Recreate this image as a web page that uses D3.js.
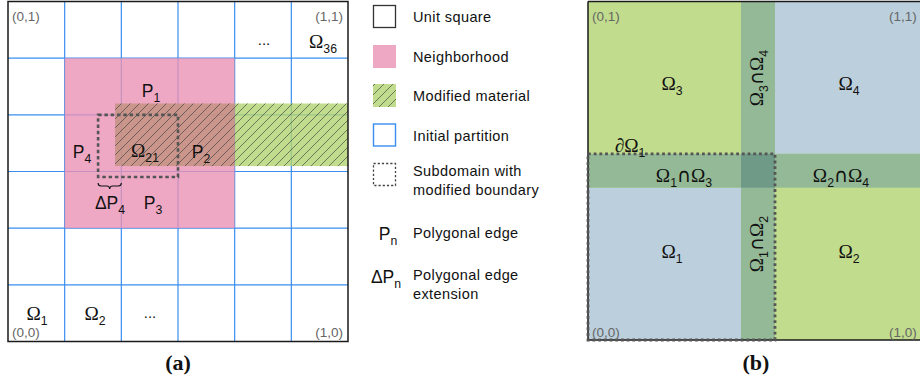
<!DOCTYPE html>
<html><head><meta charset="utf-8">
<script src="https://cdn.jsdelivr.net/npm/d3@7"></script>
<style>html,body{margin:0;padding:0;background:#fff;}svg{display:block;}</style>
</head><body>
<script>
// ---------- data ----------
const partitionLines = [0, 1/6, 2/6, 3/6, 4/6, 5/6, 1];
const neighborhood = {x0: 1/6, x1: 4/6, y0: 2/6, y1: 5/6};
const modifiedMaterial = {x0: 0.315, x1: 1, y0: 0.516, y1: 0.70};
const subdomainA = {x0: 0.265, x1: 0.5, y0: 0.484, y1: 4/6};
const extensionA = {x0: 0.265, x1: 1/3};
const splitB = 0.5;
const overlapB = 0.05;
const legendLabels = ["Unit square", "Neighborhood", "Modified material", "Initial partition", ["Subdomain with", "modified boundary"]];
const captions = ["(a)", "(b)"];

// ---------- setup ----------
const W = 920, H = 383;
const svg = d3.select("body").append("svg").attr("width", W).attr("height", H);
const defs = svg.append("defs");
const FONT = "Liberation Sans, Arial, Helvetica, sans-serif";
const SERIF = "Liberation Serif, DejaVu Serif, serif";
const C = {pink: "#ea92b5", green: "#b1d36f", overlap: "#c0917d", grid: "#3a8ef0",
  gB: "#c1dc8c", bB: "#bccfdc", band: "#94b996", center: "#6e9a87", dash: "#555"};

const hatch = defs.append("pattern").attr("id", "hatch").attr("patternUnits", "userSpaceOnUse")
  .attr("width", 9).attr("height", 9);
hatch.append("path").attr("d", "M0,9 L9,0 M-2,2 L2,-2 M7,11 L11,7")
  .attr("stroke", "#3a3a3a").attr("stroke-width", 0.85).attr("stroke-opacity", 0.75);

// segments: "_x" subscript, others normal; Ω / ∂ rendered in serif, ∩ in DejaVu Sans
function rich(g, x, y, segs, size, anchor, fill) {
  const t = g.append("text").attr("x", x).attr("y", y).attr("font-family", FONT)
    .attr("font-size", size).attr("text-anchor", anchor || "middle").attr("fill", fill || "#111");
  let shifted = false;
  segs.forEach(s => {
    const isSub = s.startsWith("_");
    const txt = isSub ? s.slice(1) : s;
    const ts = t.append("tspan").text(txt);
    if (isSub) {
      ts.attr("font-size", size * 0.7);
      if (!shifted) { ts.attr("dy", size * 0.3); shifted = true; }
    } else {
      if (shifted) { ts.attr("dy", -size * 0.3); shifted = false; }
      if (/[Ω∂]/.test(txt)) ts.attr("font-family", SERIF).attr("font-size", size * 1.1);
      if (txt === "∩") ts.attr("font-family", "DejaVu Sans, sans-serif").attr("font-size", size * 1.1);
    }
  });
  return t;
}

// ---------- panel (a) ----------
const xa = d3.scaleLinear().domain([0, 1]).range([8, 348]);
const ya = d3.scaleLinear().domain([0, 1]).range([341.5, 1.5]);
const ga = svg.append("g");

ga.append("rect").attr("x", xa(0)).attr("y", ya(1)).attr("width", xa(1) - xa(0)).attr("height", ya(0) - ya(1)).attr("fill", "#fff");
ga.selectAll("line.v").data(partitionLines.slice(1, -1)).join("line")
  .attr("x1", d => xa(d)).attr("x2", d => xa(d)).attr("y1", ya(0)).attr("y2", ya(1))
  .attr("stroke", C.grid).attr("stroke-width", 1.2);
ga.selectAll("line.h").data(partitionLines.slice(1, -1)).join("line")
  .attr("y1", d => ya(d)).attr("y2", d => ya(d)).attr("x1", xa(0)).attr("x2", xa(1))
  .attr("stroke", C.grid).attr("stroke-width", 1.2);

function rectA(r, fill, op) {
  return ga.append("rect").attr("x", xa(r.x0)).attr("y", ya(r.y1))
    .attr("width", xa(r.x1) - xa(r.x0)).attr("height", ya(r.y0) - ya(r.y1))
    .attr("fill", fill).attr("fill-opacity", op == null ? 0.8 : op);
}
rectA(neighborhood, C.pink);
rectA({x0: neighborhood.x1, x1: modifiedMaterial.x1, y0: modifiedMaterial.y0, y1: modifiedMaterial.y1}, C.green);
rectA({x0: modifiedMaterial.x0, x1: neighborhood.x1, y0: modifiedMaterial.y0, y1: modifiedMaterial.y1}, C.overlap, 0.8);
rectA(modifiedMaterial, "url(#hatch)", 1);

ga.append("rect").attr("x", xa(0)).attr("y", ya(1)).attr("width", xa(1) - xa(0)).attr("height", ya(0) - ya(1))
  .attr("fill", "none").attr("stroke", "#1a1a1a").attr("stroke-width", 1.5);

ga.append("rect").attr("x", xa(subdomainA.x0)).attr("y", ya(subdomainA.y1))
  .attr("width", xa(subdomainA.x1) - xa(subdomainA.x0)).attr("height", ya(subdomainA.y0) - ya(subdomainA.y1))
  .attr("fill", "none").attr("stroke", C.dash).attr("stroke-width", 2.6).attr("stroke-dasharray", "3.5,2.8");

{
  const bx0 = xa(extensionA.x0), bx1 = xa(extensionA.x1), by = ya(subdomainA.y0) + 6, bm = (bx0 + bx1) / 2;
  ga.append("path").attr("d",
    `M${bx0},${by} Q${bx0},${by + 3} ${bx0 + 3},${by + 3} L${bm - 3},${by + 3} Q${bm},${by + 3} ${bm},${by + 6} Q${bm},${by + 3} ${bm + 3},${by + 3} L${bx1 - 3},${by + 3} Q${bx1},${by + 3} ${bx1},${by}`)
    .attr("fill", "none").attr("stroke", "#111").attr("stroke-width", 1.1);
}

const gray = "#666";
const LBL = 17.5;
rich(ga, 12, 21, ["(0,1)"], 13.5, "start", gray);
rich(ga, 343, 21, ["(1,1)"], 13.5, "end", gray);
rich(ga, 12, 337, ["(0,0)"], 13.5, "start", gray);
rich(ga, 343, 337, ["(1,0)"], 13.5, "end", gray);
rich(ga, 323, 48, ["Ω", "_36"], LBL);
rich(ga, 264, 45, ["..."], 15);
rich(ga, 151, 97, ["P", "_1"], LBL);
rich(ga, 82, 158, ["P", "_4"], LBL);
rich(ga, 145, 157, ["Ω", "_21"], LBL);
rich(ga, 201, 158, ["P", "_2"], LBL);
rich(ga, 110, 209, ["ΔP", "_4"], LBL);
rich(ga, 153, 209, ["P", "_3"], LBL);
rich(ga, 37, 320, ["Ω", "_1"], LBL);
rich(ga, 95, 320, ["Ω", "_2"], LBL);
rich(ga, 150, 318, ["..."], 15);

// ---------- legend ----------
const gl = svg.append("g");
const legY = [5, 45, 84, 123.5, 163];
const bs = 23, lx = 373;
gl.append("rect").attr("x", lx + 0.5).attr("y", legY[0] + 0.5).attr("width", bs - 1).attr("height", bs - 1)
  .attr("fill", "#fff").attr("stroke", "#333").attr("stroke-width", 1.3);
gl.append("rect").attr("x", lx).attr("y", legY[1]).attr("width", bs).attr("height", bs).attr("fill", "#eea8c4");
gl.append("rect").attr("x", lx).attr("y", legY[2]).attr("width", bs).attr("height", bs).attr("fill", "#c1dc8c");
gl.append("rect").attr("x", lx).attr("y", legY[2]).attr("width", bs).attr("height", bs).attr("fill", "url(#hatch)");
gl.append("rect").attr("x", lx + 0.5).attr("y", legY[3] + 0.5).attr("width", bs - 1).attr("height", bs - 1)
  .attr("fill", "#fff").attr("stroke", C.grid).attr("stroke-width", 1.4);
gl.append("rect").attr("x", lx + 0.5).attr("y", legY[4] + 0.5).attr("width", bs - 1).attr("height", bs - 1)
  .attr("fill", "#fff").attr("stroke", "#444").attr("stroke-width", 1.3).attr("stroke-dasharray", "2.2,2");
const LEG = 14.5;
function legText(x, y, s) { return rich(gl, x, y, [s], LEG, "start", "#111").attr("letter-spacing", 0.4); }
legendLabels.forEach((lab, i) => {
  const lines = Array.isArray(lab) ? lab : [lab];
  lines.forEach((ln, j) => legText(413, legY[i] + 17 + j * 18.5 - (lines.length > 1 ? 4 : 0), ln));
});
rich(gl, 388, 240, ["P", "_n"], LBL);
legText(413, 238, "Polygonal edge");
rich(gl, 386, 283, ["ΔP", "_n"], LBL);
legText(413, 280, "Polygonal edge");
legText(413, 298.5, "extension");

// ---------- panel (b) ----------
const xb = d3.scaleLinear().domain([0, 1]).range([588, 928]);
const yb = d3.scaleLinear().domain([0, 1]).range([340, 1.5]);
const gb = svg.append("g");
function rectB(x0, x1, y0, y1, fill) {
  return gb.append("rect").attr("x", xb(x0)).attr("y", yb(y1)).attr("width", xb(x1) - xb(x0)).attr("height", yb(y0) - yb(y1)).attr("fill", fill);
}
const lo = splitB - overlapB, hi = splitB + overlapB;
rectB(0, 1, 0, 1, C.gB);
rectB(0, lo, 0, lo, C.bB);
rectB(hi, 1, hi, 1, C.bB);
rectB(lo, hi, 0, 1, C.band);
rectB(0, 1, lo, hi, C.band);
rectB(lo, hi, lo, hi, C.center);
gb.append("path").attr("d", `M${xb(0)},${yb(1)} L${xb(1)},${yb(1)} M${xb(0)},${yb(0)} L${xb(1)},${yb(0)} M${xb(0)},${yb(0)} L${xb(0)},${yb(1)}`)
  .attr("stroke", "#1a1a1a").attr("stroke-width", 1.5).attr("fill", "none");
gb.append("rect").attr("x", xb(0)).attr("y", yb(hi)).attr("width", xb(hi) - xb(0)).attr("height", yb(0) - yb(hi))
  .attr("fill", "none").attr("stroke", C.dash).attr("stroke-width", 2.8).attr("stroke-dasharray", "2.8,2.9");

const LB = 17.5;
rich(gb, 592, 21, ["(0,1)"], 13.5, "start", gray);
rich(gb, 889, 21, ["(1,1)"], 13.5, "start", gray);
rich(gb, 592, 337, ["(0,0)"], 13.5, "start", gray);
rich(gb, 889, 337, ["(1,0)"], 13.5, "start", gray);
rich(gb, 672, 90, ["Ω", "_3"], LB);
rich(gb, 849, 90, ["Ω", "_4"], LB);
rich(gb, 672, 258, ["Ω", "_1"], LB);
rich(gb, 849, 258, ["Ω", "_2"], LB);
rich(gb, 630, 152, ["∂Ω", "_1"], LB);
rich(gb, 684, 182, ["Ω", "_1", "∩", "Ω", "_3"], LB);
rich(gb, 841, 182, ["Ω", "_2", "∩", "Ω", "_4"], LB);
rich(gb, 0, 0, ["Ω", "_3", "∩", "Ω", "_4"], LB).attr("transform", `translate(${xb(splitB) + 5},78) rotate(-90)`);
rich(gb, 0, 0, ["Ω", "_1", "∩", "Ω", "_2"], LB).attr("transform", `translate(${xb(splitB) + 5},244) rotate(-90)`);

// ---------- captions ----------
[[178, captions[0]], [756, captions[1]]].forEach(([x, t]) =>
  svg.append("text").attr("x", x).attr("y", 370).attr("text-anchor", "middle")
    .attr("font-family", SERIF).attr("font-weight", "bold")
    .attr("font-size", 22).attr("fill", "#111").text(t));
</script>
</body></html>
